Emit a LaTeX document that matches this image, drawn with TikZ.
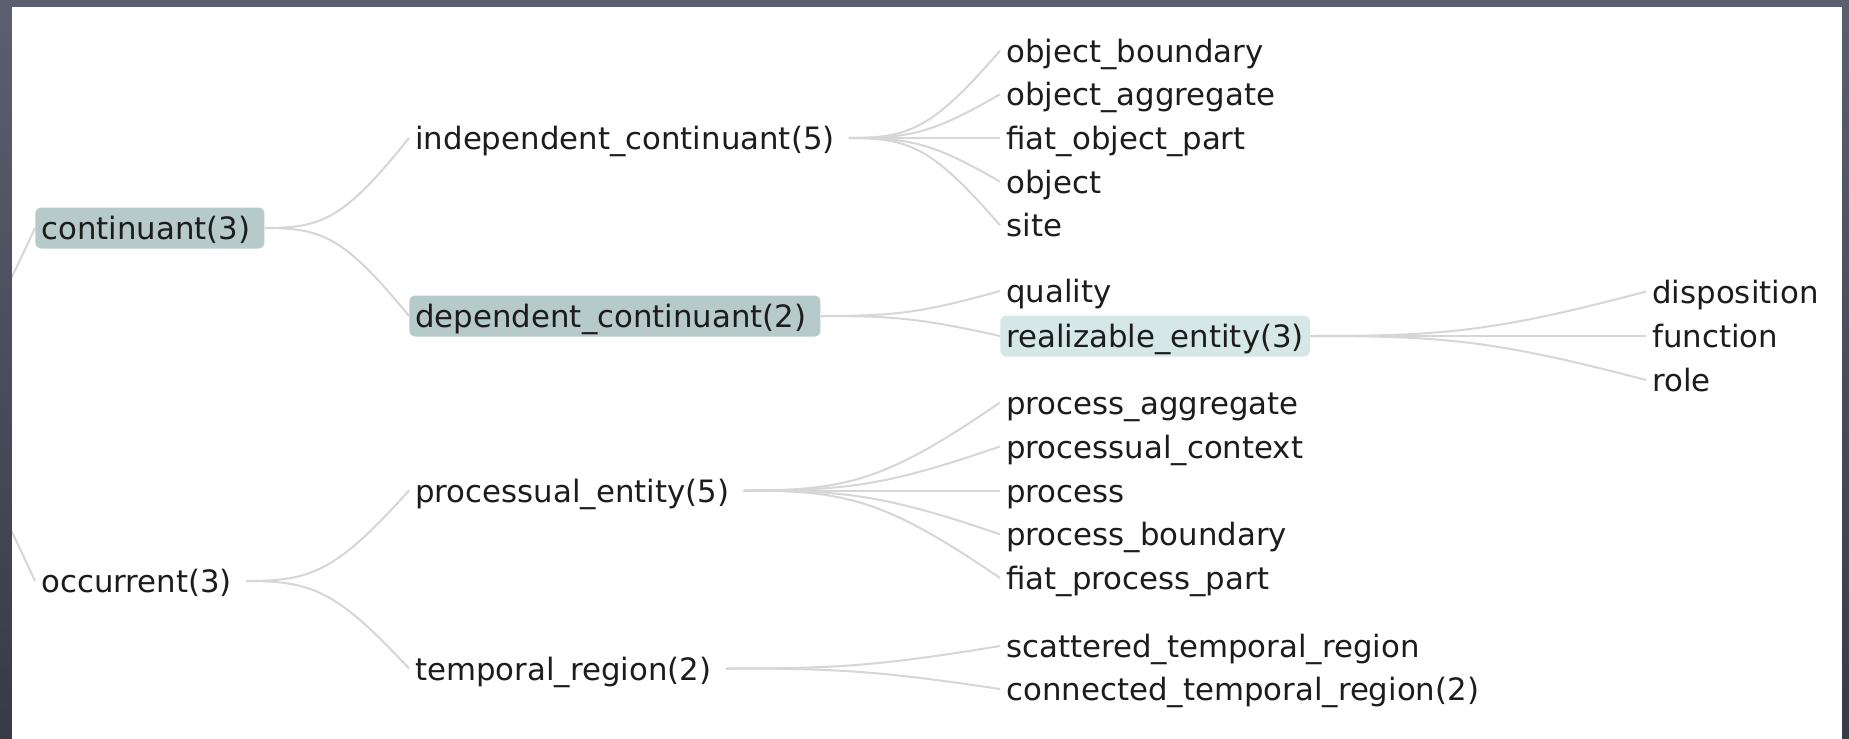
\documentclass[tikz,border=0pt]{standalone}
\usepackage{fontspec}
\setmainfont{DejaVu Sans}
\usepackage{tikz}
\usetikzlibrary{calc,positioning}
\definecolor{frametop}{RGB}{92,95,112}
\definecolor{framebot}{RGB}{56,58,70}
\definecolor{selfill}{RGB}{181,202,201}
\definecolor{litefill}{RGB}{213,231,231}
\definecolor{linkgray}{RGB}{214,214,214}
\definecolor{ink}{RGB}{28,28,28}

\begin{document}
\begin{tikzpicture}[x=0.5pt,y=-0.5pt,
    item/.style={anchor=west, inner xsep=3pt, inner ysep=2.75pt, text height=13.25pt, text depth=1.75pt,
                 font=\fontsize{15.4}{18}\selectfont, text=ink},
    tail/.style={execute at end node={\hspace{4pt}}},
    sel/.style={fill=selfill, rounded corners=3pt},
    lite/.style={fill=litefill, rounded corners=3pt},
    link/.style={draw=linkgray, line width=1pt}]
    \useasboundingbox (0,0) rectangle (1849,739);
    % frame and panel
    \shade[top color=frametop, bottom color=framebot] (0,0) rectangle (1849,739);
    \fill[white] (12,7) rectangle (1842,739);

    % top levels
    \node[item,tail,sel] (cont) at (35,228) {continuant(3)};
    \node[item,tail] (occ) at (35,581) {occurrent(3)};
    \node[item,tail] (ic) at (409,138) {independent\_continuant(5)};
    \node[item,tail,sel] (dc) at (409,316) {dependent\_continuant(2)\hspace{1.5pt}};
    \node[item,tail] (pe) at (409,490.5) {processual\_entity(5)};
    \node[item,tail] (tr) at (409,668.5) {temporal\_region(2)};
    \coordinate (root) at (-127,404);

    % leaves
    \foreach \n/\y/\l in {ob/50.7/object\_boundary, oa/94.3/object\_aggregate, fop/138/fiat\_object\_part,
                          obj/181.7/object, site/225.3/site, qual/291/quality,
                          pa/402.5/process\_aggregate, pc/446.5/processual\_context, proc/490.5/process,
                          pb/534.3/process\_boundary, fpp/578/fiat\_process\_part,
                          stm/646/scattered\_temporal\_region, ctr/689/connected\_temporal\_region(2)}
        \node[item] (\n) at (1000,\y) {\l};
    \node[item,lite] (re) at (1000,336) {realizable\_entity(3)};
    \foreach \n/\y/\l in {disp/291.5/disposition, func/336/function, role/380/role}
        \node[item] (\n) at (1646,\y) {\l};

    % connectors
    \begin{scope}
        \clip (12,7) rectangle (1842,739);
        \foreach \c in {cont,occ}
            \draw[link] let \p1=(root), \p2=(\c.west) in (\p1)
                .. controls ({\x1+0.4*(\x2-\x1)},\y1) and ({\x1+0.55*(\x2-\x1)},{\y1+0.1*(\y2-\y1)}) .. (\p2);
    \end{scope}
    \foreach \a/\c in {cont/ic, cont/dc, occ/pe, occ/tr,
                       ic/ob, ic/oa, ic/fop, ic/obj, ic/site, dc/qual, dc/re,
                       pe/pa, pe/pc, pe/proc, pe/pb, pe/fpp, tr/stm, tr/ctr,
                       re/disp, re/func, re/role}
        \draw[link] let \p1=(\a.east), \p2=(\c.west) in (\p1)
            .. controls ({\x1+0.4*(\x2-\x1)},\y1) and ({\x1+0.55*(\x2-\x1)},{\y1+0.1*(\y2-\y1)}) .. (\p2);
\end{tikzpicture}
\end{document}
